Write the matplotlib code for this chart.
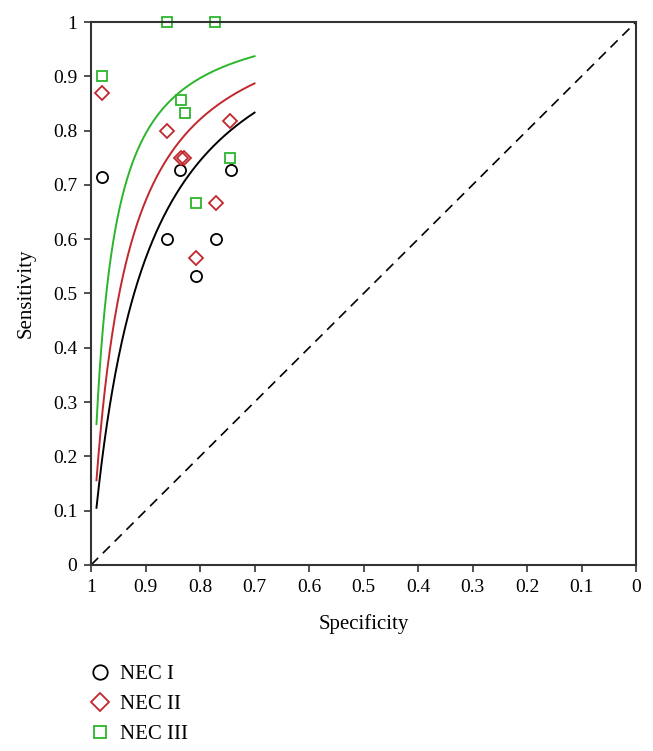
import numpy as np
import matplotlib
matplotlib.use('Agg')
import matplotlib.pyplot as plt

plt.rcParams['font.family'] = ['Liberation Serif', 'DejaVu Serif']

# study points (specificity, sensitivity)
nec1_spec = [0.980, 0.860, 0.836, 0.808, 0.771, 0.744]
nec1_sens = [0.714, 0.600, 0.727, 0.533, 0.600, 0.727]

nec2_spec = [0.980, 0.860, 0.835, 0.829, 0.808, 0.771, 0.745]
nec2_sens = [0.870, 0.800, 0.750, 0.750, 0.565, 0.667, 0.818]

nec3_spec = [0.980, 0.860, 0.772, 0.835, 0.827, 0.808, 0.745]
nec3_sens = [0.900, 1.000, 1.000, 0.857, 0.833, 0.667, 0.750]

# SROC curves: constant diagnostic odds ratio per group
dor = {'NEC I': 11.65, 'NEC II': 18.3, 'NEC III': 34.7}
spec_range = (0.99, 0.70)

colors = {'NEC I': 'black', 'NEC II': '#c1272d', 'NEC III': '#2cb52c'}

fig = plt.figure(figsize=(6.53, 7.51), dpi=100)
ax = fig.add_axes([0.1394, 0.2477, 0.8346, 0.7230])

# curves
spec = np.linspace(spec_range[0], spec_range[1], 300)
fpr = 1 - spec
for name in ['NEC I', 'NEC II', 'NEC III']:
    odds = dor[name] * fpr / (1 - fpr)
    ax.plot(spec, odds / (1 + odds), color=colors[name], lw=1.4)

# diagonal
ax.plot([1, 0], [0, 1], color='black', lw=1.2, linestyle=(0, (6, 4)))

# points
ax.plot(nec1_spec, nec1_sens, 'o', ms=8, mfc='none', mec=colors['NEC I'],
        mew=1.3, label='NEC I', clip_on=False)
ax.plot(nec2_spec, nec2_sens, 'D', ms=7, mfc='none', mec=colors['NEC II'],
        mew=1.3, label='NEC II', clip_on=False)
ax.plot(nec3_spec, nec3_sens, 's', ms=7, mfc='none', mec=colors['NEC III'],
        mew=1.3, label='NEC III', clip_on=False)

ax.set_xlim(1, 0)
ax.set_ylim(0, 1)
ticks = [round(0.1 * i, 1) for i in range(11)]
labels = ['0', '0.1', '0.2', '0.3', '0.4', '0.5', '0.6', '0.7', '0.8', '0.9', '1']
ax.set_xticks(ticks)
ax.set_xticklabels(labels)
ax.set_yticks(ticks)
ax.set_yticklabels(labels)
ax.tick_params(direction='out', length=5, width=1.2, color='#333333',
               labelsize=14, pad=5)
for s in ax.spines.values():
    s.set_color('#333333')
    s.set_linewidth(1.5)

ax.set_xlabel('Specificity', fontsize=15, labelpad=13)
ax.set_ylabel('Sensitivity', fontsize=15, labelpad=12)

fig.legend(loc='upper left', bbox_to_anchor=(0.117, 0.129), frameon=False,
           fontsize=15, handletextpad=0.3, labelspacing=0.5, borderpad=0,
           handlelength=1.3, markerscale=1.3)

plt.savefig('out.png', dpi=100)
